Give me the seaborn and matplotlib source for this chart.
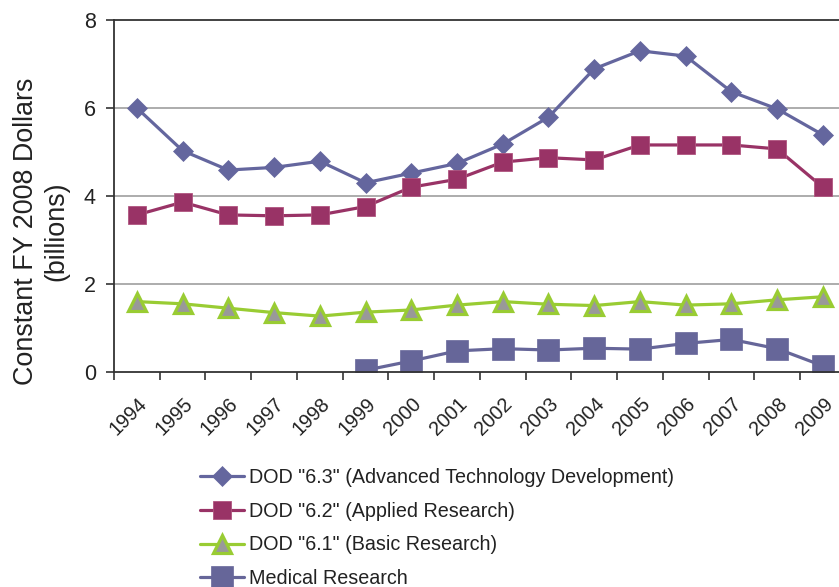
import matplotlib
matplotlib.use("Agg")
import matplotlib.pyplot as plt
import matplotlib.transforms as mtransforms
import numpy as np
import pandas as pd
import seaborn as sns

years = ["1994", "1995", "1996", "1997", "1998", "1999", "2000", "2001",
         "2002", "2003", "2004", "2005", "2006", "2007", "2008", "2009"]

dod_63 = [6.00, 5.03, 4.59, 4.65, 4.79, 4.30, 4.52, 4.74,
          5.18, 5.79, 6.89, 7.30, 7.18, 6.37, 5.98, 5.39]
dod_62 = [3.57, 3.86, 3.57, 3.55, 3.57, 3.76, 4.20, 4.38,
          4.77, 4.87, 4.82, 5.16, 5.16, 5.16, 5.07, 4.20]
dod_61 = [1.60, 1.55, 1.45, 1.35, 1.27, 1.36, 1.41, 1.52,
          1.60, 1.54, 1.51, 1.60, 1.52, 1.55, 1.64, 1.71]
medical = [np.nan, np.nan, np.nan, np.nan, np.nan, 0.04, 0.25, 0.48,
           0.53, 0.50, 0.54, 0.52, 0.65, 0.74, 0.53, 0.14]

labels = ['DOD "6.3" (Advanced Technology Development)',
          'DOD "6.2" (Applied Research)',
          'DOD "6.1" (Basic Research)',
          'Medical Research']

sns.set_theme(style="white")
plt.rcParams["font.family"] = ["Liberation Sans", "DejaVu Sans"]

fig = plt.figure(figsize=(8.39, 5.87), dpi=100)
W, H = 839, 587
left_px, right_px, top_px, bottom_px = 114, 845.7, 20, 372
ax_w = right_px - left_px
ax_h = bottom_px - top_px
ax = fig.add_axes([left_px / W, 1 - bottom_px / H, ax_w / W, ax_h / H])

idx = np.arange(len(years))
df = pd.DataFrame({"idx": idx, "s63": dod_63, "s62": dod_62,
                   "s61": dod_61, "med": medical})

styles = [
    ("s63", dict(color="#64669E", marker="D", markersize=10.5,
                 markerfacecolor="#64669E", markeredgecolor="#64669E",
                 markeredgewidth=0.5)),
    ("s62", dict(color="#993366", marker="s", markersize=13.5,
                 markerfacecolor="#993366", markeredgecolor="#B0557F",
                 markeredgewidth=0.6)),
    ("s61", dict(color="#99CC33", marker="^", markersize=13,
                 markerfacecolor="#999999", markeredgecolor="#99CC33",
                 markeredgewidth=2.3)),
    ("med", dict(color="#666699", marker="s", markersize=16.5,
                 markerfacecolor="#666699", markeredgecolor="#666699",
                 markeredgewidth=0.5)),
]

handles = []
for (col, st), lab in zip(styles, labels):
    sns.lineplot(data=df, x="idx", y=col, ax=ax, linewidth=2.3,
                 label=lab, legend=False, **st)
    handles.append(ax.lines[-1])

ax.set_xlim(-0.5, len(years) - 0.5)
ax.set_ylim(0, 8)
ax.set_yticks([0, 2, 4, 6, 8])
ax.set_yticklabels(["0", "2", "4", "6", "8"], fontsize=15.5, color="#222222")
for yv in [2, 4, 6]:
    ax.axhline(yv, color="#A6A6A6", linewidth=1.3, zorder=0)

ax.set_xticks(idx)
ax.set_xticklabels(years, fontsize=14.3, color="#222222", rotation=45,
                   ha="right", va="center", rotation_mode="anchor")
ax.set_xticks(np.arange(-0.5, len(years) + 0.5, 1), minor=True)
ax.tick_params(axis="x", which="major", length=0, pad=21)
ax.tick_params(axis="x", which="minor", length=6, width=1.2,
               color="#333333", direction="out", bottom=True)
ax.tick_params(axis="y", length=6, width=1.2, color="#333333",
               direction="out", left=True, pad=7)
offset = mtransforms.ScaledTranslation(7 / 100, 0, fig.dpi_scale_trans)
for lbl in ax.get_xticklabels():
    lbl.set_transform(lbl.get_transform() + offset)

for side in ["left", "bottom", "top"]:
    ax.spines[side].set_visible(True)
    ax.spines[side].set_color("#333333")
    ax.spines[side].set_linewidth(1.3)
ax.spines["right"].set_visible(False)

ax.set_xlabel("")
ax.set_ylabel("Constant FY 2008 Dollars\n(billions)", fontsize=19.4,
              color="#222222", linespacing=1.2)
ax.yaxis.label.set_verticalalignment("center")
ax.yaxis.set_label_coords((41 - left_px) / ax_w, (bottom_px - 231) / ax_h)

fig.legend(handles=handles, labels=labels, loc="upper left",
           bbox_to_anchor=(192 / W, 1 - 460 / H), frameon=False,
           fontsize=14.2, handlelength=2.25, handletextpad=0.25,
           labelspacing=0.75, borderaxespad=0, labelcolor="#222222")

fig.savefig("out.png", dpi=100)
